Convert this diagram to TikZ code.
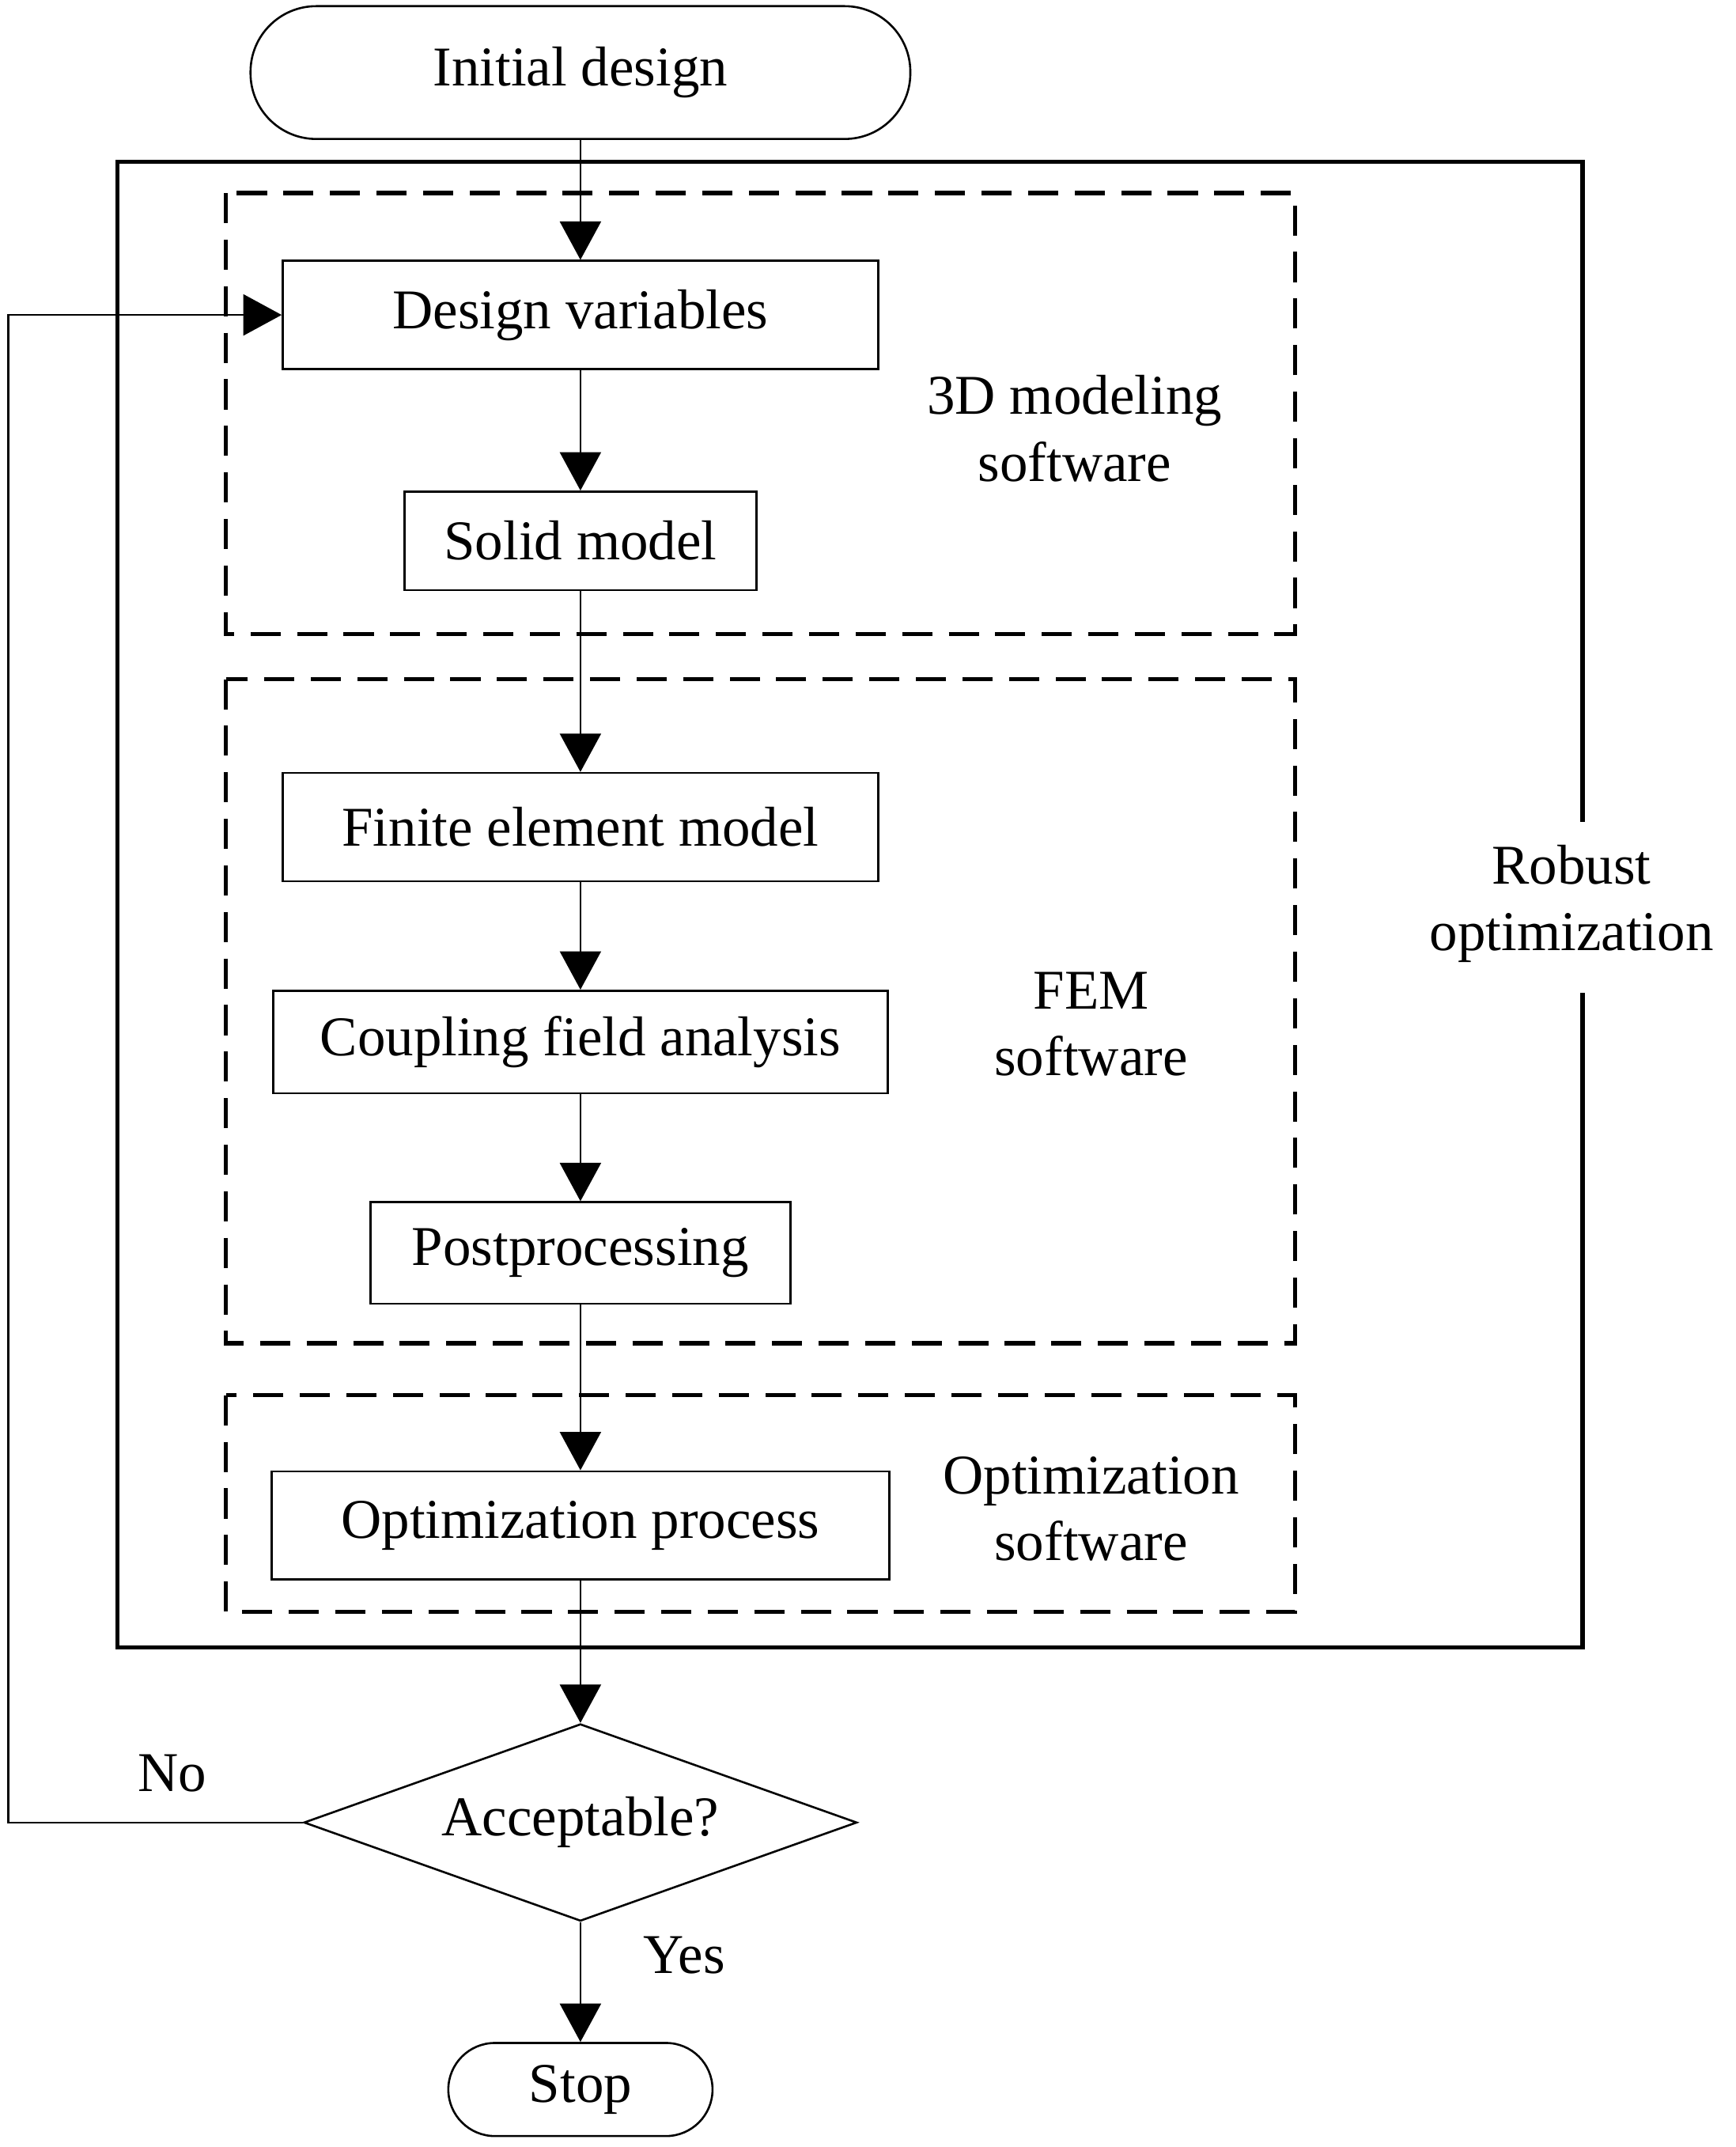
\documentclass[tikz,border=0pt]{standalone}
\usepackage{fontspec}
\setmainfont{Liberation Serif}
\usetikzlibrary{shapes.geometric,arrows.meta}
\begin{document}
\begin{tikzpicture}[x=1pt,y=-1pt,
  every node/.style={font=\fontsize{41}{49}\selectfont},
  box/.style={draw,line width=1.5pt,minimum height=77pt,inner sep=0pt},
  dbox/.style={draw,line width=3pt,dash pattern=on 22pt off 12pt},
  arr/.style={line width=1.5pt,-{Triangle[length=28pt,width=30pt]}},
  lbl/.style={align=center}]
\useasboundingbox (0,0) rectangle (1268,1568);
\node[draw,line width=1.5pt,rounded corners=48pt,minimum width=482pt,minimum height=97pt] (init) at (424,53) {Initial design};
\draw[line width=3pt] (1156,600) -- (1156,118) -- (86,118) -- (86,1203) -- (1156,1203) -- (1156,725);
\node[lbl] (rob) at (1148,660) {Robust\\optimization};
\draw[dbox] (165,141) rectangle (946,463);
\draw[dbox] (165,496) rectangle (946,981);
\draw[dbox] (165,1019) rectangle (946,1177);
\node[box,minimum width=435pt,minimum height=79pt] (dv) at (424,230) {Design variables};
\node[box,minimum width=257pt,minimum height=72pt] (sm) at (424,395) {Solid model};
\node[box,minimum width=435pt,minimum height=79pt] (fem) at (424,604) {Finite element model};
\node[box,minimum width=449pt,minimum height=75pt] (cfa) at (424,761) {Coupling field analysis};
\node[box,minimum width=307pt,minimum height=74pt] (pp) at (424,915) {Postprocessing};
\node[box,minimum width=451pt,minimum height=79pt] (op) at (424,1114) {Optimization process};
\node[draw,line width=1.5pt,diamond,aspect=2.8,minimum width=404pt,minimum height=144pt,inner sep=0pt] (acc) at (424,1331) {Acceptable?};
\node[draw,line width=1.5pt,rounded corners=34pt,minimum width=193pt,minimum height=68pt] (stop) at (424,1526) {Stop};
\node[lbl] (l1) at (785,313) {3D modeling\\software};
\node[lbl] (l2) at (797,748) {FEM\\software};
\node[lbl] (l3) at (797,1102) {Optimization\\software};
\node (no) at (126,1295) {No};
\node (yes) at (500,1428) {Yes};
\draw[arr] (init) -- (dv);
\draw[arr] (dv) -- (sm);
\draw[arr] (sm) -- (fem);
\draw[arr] (fem) -- (cfa);
\draw[arr] (cfa) -- (pp);
\draw[arr] (pp) -- (op);
\draw[arr] (op) -- (acc);
\draw[arr] (acc) -- (stop);
\coordinate (c1) at (6,1331);
\coordinate (c2) at (6,230);
\draw[arr] (acc.west) -- (c1) -- (c2) -- (dv.west);
\end{tikzpicture}
\end{document}
